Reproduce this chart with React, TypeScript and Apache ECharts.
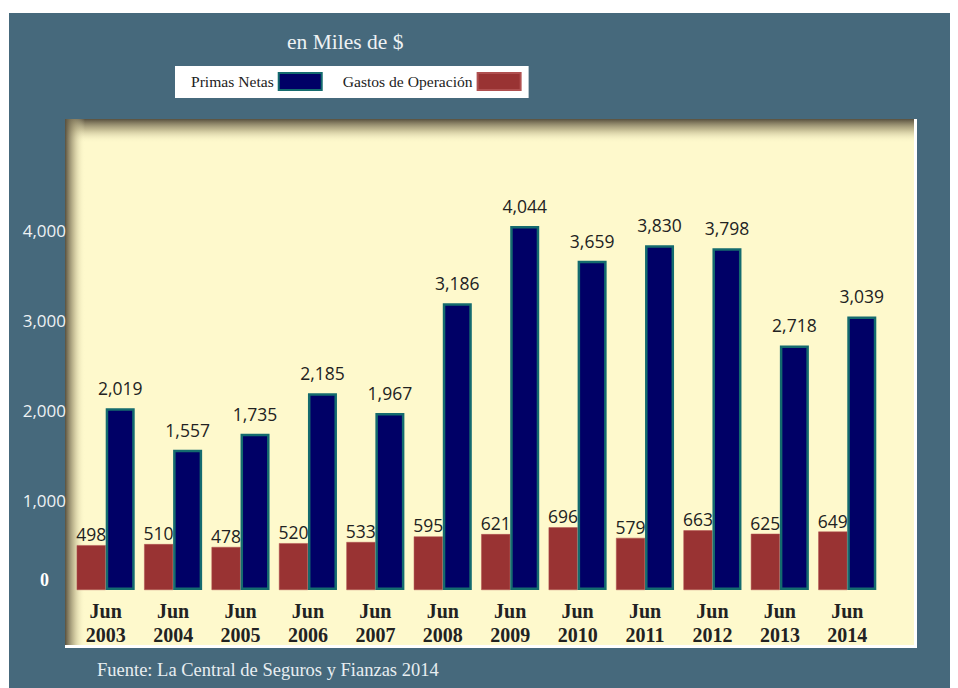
import React, { useEffect, useRef } from "react";
import * as echarts from "echarts";

const categories = ["2003", "2004", "2005", "2006", "2007", "2008", "2009", "2010", "2011", "2012", "2013", "2014"];
const primasNetas = [2019, 1557, 1735, 2185, 1967, 3186, 4044, 3659, 3830, 3798, 2718, 3039];
const gastosOperacion = [498, 510, 478, 520, 533, 595, 621, 696, 579, 663, 625, 649];
const yTicks = [0, 1000, 2000, 3000, 4000];

const fmt = (v: number) => v.toLocaleString("en-US");

export default function App() {
  const ref = useRef<HTMLDivElement>(null);
  useEffect(() => {
    document.documentElement.style.overflow = "hidden";
    document.body.style.overflow = "hidden";
    const chart = echarts.init(ref.current!, null, { renderer: "svg" });
    const plot = { x: 56, y: 106, w: 852, h: 529 };
    chart.setOption({
      animation: false,
      backgroundColor: "#46697c",
      title: {
        text: "en Miles de $",
        left: 273,
        top: 13,
        textStyle: { fontFamily: "Liberation Serif", fontWeight: "normal", fontSize: 21.5, color: "#eef2f4" },
      },
      legend: {
        data: ["Primas Netas", "Gastos de Operación"],
        left: 166,
        top: 53,
        align: "right",
        icon: "rect",
        backgroundColor: "#ffffff",
        padding: [6, 7, 7, 16],
        itemWidth: 43,
        itemHeight: 17,
        itemGap: 20,
        textStyle: { fontFamily: "Liberation Serif", fontSize: 15.6, color: "#222" },
      },
      graphic: [
        { type: "rect", z: 0, shape: { x: plot.x, y: plot.y, width: plot.w, height: plot.h }, style: { fill: "#fef9cc" } },
        {
          type: "rect", z: 0,
          shape: { x: plot.x, y: plot.y, width: plot.w, height: 24 },
          style: {
            fill: new echarts.graphic.LinearGradient(0, 0, 0, 1, [
              { offset: 0, color: "rgba(88,80,62,1)" },
              { offset: 0.45, color: "rgba(165,155,118,0.65)" },
              { offset: 1, color: "rgba(254,249,204,0)" },
            ]),
          },
        },
        {
          type: "rect", z: 0,
          shape: { x: plot.x, y: plot.y, width: 20, height: plot.h },
          style: {
            fill: new echarts.graphic.LinearGradient(0, 0, 1, 0, [
              { offset: 0, color: "rgba(88,80,62,1)" },
              { offset: 0.45, color: "rgba(165,155,118,0.6)" },
              { offset: 1, color: "rgba(254,249,204,0)" },
            ]),
          },
        },
        { type: "rect", z: 0, shape: { x: plot.x + plot.w - 3, y: plot.y, width: 3, height: plot.h }, style: { fill: "#ffffff" } },
        { type: "rect", z: 0, shape: { x: plot.x, y: plot.y + plot.h - 3, width: plot.w, height: 3 }, style: { fill: "#ffffff" } },
        {
          type: "text", z: 5, x: 88, y: 647,
          style: {
            text: "Fuente: La Central de Seguros y Fianzas 2014",
            fontFamily: "Liberation Serif", fontSize: 18.5, fill: "#e8eef1",
          },
        },
      ],
      grid: { left: 63, right: 77, top: 172, bottom: 98 },
      xAxis: {
        type: "category",
        data: categories,
        axisLine: { show: false },
        axisTick: { show: false },
        axisLabel: {
          margin: 9,
          formatter: (v: string) => "Jun\n" + v,
          fontFamily: "Liberation Serif",
          fontWeight: "bold",
          fontSize: 20,
          lineHeight: 24,
          color: "#222222",
        },
      },
      yAxis: {
        type: "value",
        min: 0,
        max: 4500,
        interval: 1000,
        splitLine: { show: false },
        axisLine: { show: false },
        axisTick: { show: false },
        axisLabel: {
          margin: 6,
          formatter: (v: number) => (v === 0 ? "{z|0}" : yTicks.includes(v) ? fmt(v) : ""),
          fontFamily: "Open Sans",
          fontSize: 17,
          color: "#eef2f4",
          rich: {
            z: {
              fontFamily: "Liberation Serif",
              fontWeight: "bold",
              fontSize: 18,
              color: "#ffffff",
              padding: [0, 17, 20, 0],
            },
          },
        },
      },
      series: [
        {
          name: "Gastos de Operación",
          type: "bar",
          data: gastosOperacion,
          barWidth: 29,
          barGap: "0%",
          itemStyle: { color: "#993333", borderColor: "#b05050", borderWidth: 0.5 },
          label: {
            show: true,
            position: "top",
            distance: 2,
            formatter: (p: any) => fmt(p.value),
            fontFamily: "Open Sans",
            fontSize: 17.5,
            color: "#222222",
          },
        },
        {
          name: "Primas Netas",
          type: "bar",
          data: primasNetas,
          barWidth: 29,
          barGap: "0%",
          itemStyle: { color: "#000066", borderColor: "#146b6e", borderWidth: 2.5 },
          label: {
            show: true,
            position: "top",
            distance: 11,
            formatter: (p: any) => fmt(p.value),
            fontFamily: "Open Sans",
            fontSize: 17.5,
            color: "#222222",
          },
        },
      ],
    });
    return () => chart.dispose();
  }, []);
  return <div ref={ref} style={{ width: 949, height: 675, marginTop: 5, marginLeft: 1 }} />;
}
